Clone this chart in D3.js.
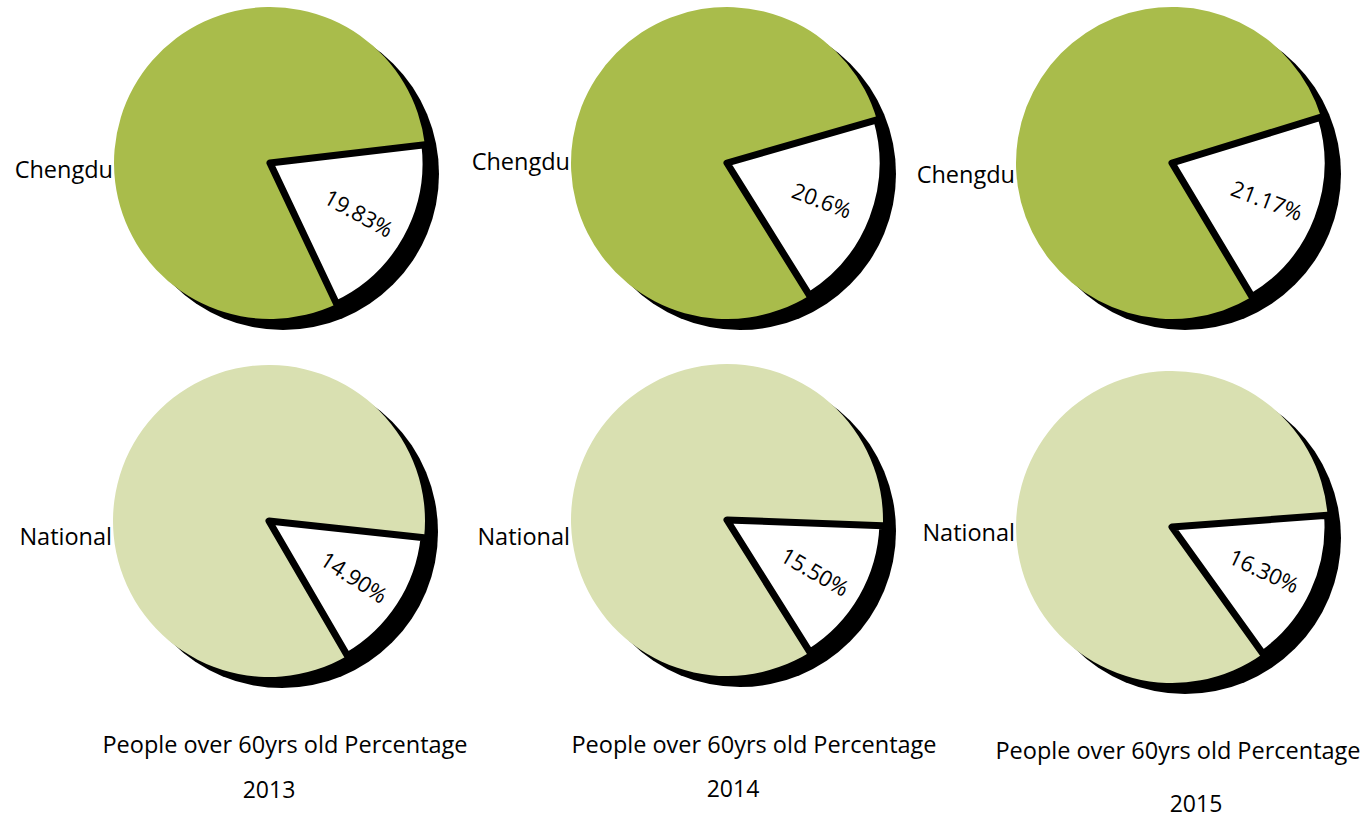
<!DOCTYPE html>
<html>
<head>
<meta charset="utf-8">
<script src="https://cdn.jsdelivr.net/npm/d3@7"></script>
<style>
  html, body { margin: 0; padding: 0; background: #ffffff; }
  svg { display: block; }
  text { font-family: "Open Sans", "Lato", sans-serif; fill: #000; font-weight: 500; }
</style>
</head>
<body>
<svg id="chart" width="1362" height="821"></svg>
<script>
// Share of residents aged 60 and over, by year
const years = ["2013", "2014", "2015"];
const regions = ["Chengdu", "National"];
const chengduPct = [19.83, 20.6, 21.17];
const nationalPct = [14.90, 15.50, 16.30];
const chengduLabels = ["19.83%", "20.6%", "21.17%"];
const nationalLabels = ["14.90%", "15.50%", "16.30%"];
const titleText = "People over 60yrs old Percentage";

// Layout: one pie per region (row) and year (column)
const radius = 156;
const shadowOffset = { x: 13, y: 11 };
const pieCenters = [
  [[270, 163], [727, 163], [1172, 163]],
  [[269, 521], [727, 520], [1172, 527]]
];
// direction (degrees below the 3 o'clock line) the highlighted slice points to
const sliceDir = [[29, 21, 21], [33, 30, 25]];
const regionLabelY = [[178, 170, 183], [545, 545, 541]];
const titleX = [285, 754, 1178];
const titleY = [753, 753, 759];
const yearX = [269, 733, 1196];
const yearY = [798, 797, 812];
const fills = ["#a9bc4b", "#d9e0b1"];

const svg = d3.select("#chart");
const pctByRegion = [chengduPct, nationalPct];
const labelsByRegion = [chengduLabels, nationalLabels];

const arc = d3.arc().innerRadius(0).outerRadius(radius);
const toRad = deg => deg * Math.PI / 180;

regions.forEach((region, r) => {
  years.forEach((year, c) => {
    const [cx, cy] = pieCenters[r][c];
    const pct = pctByRegion[r][c];
    const dir = sliceDir[r][c];
    const sweep = pct / 100 * 360;
    // d3 angles run clockwise from 12 o'clock
    const start = toRad(90 + dir - sweep / 2);

    const pie = d3.pie()
      .sort(null)
      .value(d => d.value)
      .startAngle(start)
      .endAngle(start + 2 * Math.PI);

    const slices = pie([
      { key: "over60", value: pct },
      { key: "rest", value: 100 - pct }
    ]);

    const g = svg.append("g").attr("transform", `translate(${cx},${cy})`);

    // drop shadow
    g.append("circle")
      .attr("cx", shadowOffset.x)
      .attr("cy", shadowOffset.y)
      .attr("r", radius)
      .attr("fill", "#000");

    // remaining share first, highlighted slice on top so its outline stays whole
    g.selectAll("path.slice")
      .data(slices.slice().reverse())
      .join("path")
      .attr("class", "slice")
      .attr("d", arc)
      .attr("fill", d => d.data.key === "over60" ? "#ffffff" : fills[r])
      .attr("stroke", d => d.data.key === "over60" ? "#000" : "none")
      .attr("stroke-width", 7)
      .attr("stroke-linejoin", "round");

    // percentage label inside the slice, rotated along it
    const over = slices[0];
    const mid = (over.startAngle + over.endAngle) / 2;
    const lr = 102;
    const lx = Math.sin(mid) * lr;
    const ly = -Math.cos(mid) * lr;
    g.append("text")
      .attr("transform", `translate(${lx},${ly}) rotate(${dir})`)
      .attr("text-anchor", "middle")
      .attr("dominant-baseline", "central")
      .style("font-size", "22px")
      .text(labelsByRegion[r][c]);

    // region name to the left of the pie
    svg.append("text")
      .attr("x", cx - radius - 1)
      .attr("y", regionLabelY[r][c])
      .attr("text-anchor", "end")
      .style("font-size", "23.5px")
      .text(region);
  });
});

years.forEach((year, c) => {
  svg.append("text")
    .attr("x", titleX[c])
    .attr("y", titleY[c])
    .attr("text-anchor", "middle")
    .style("font-size", "23.5px")
    .text(titleText);
  svg.append("text")
    .attr("x", yearX[c])
    .attr("y", yearY[c])
    .attr("text-anchor", "middle")
    .style("font-size", "23px")
    .text(year);
});
</script>
</body>
</html>
